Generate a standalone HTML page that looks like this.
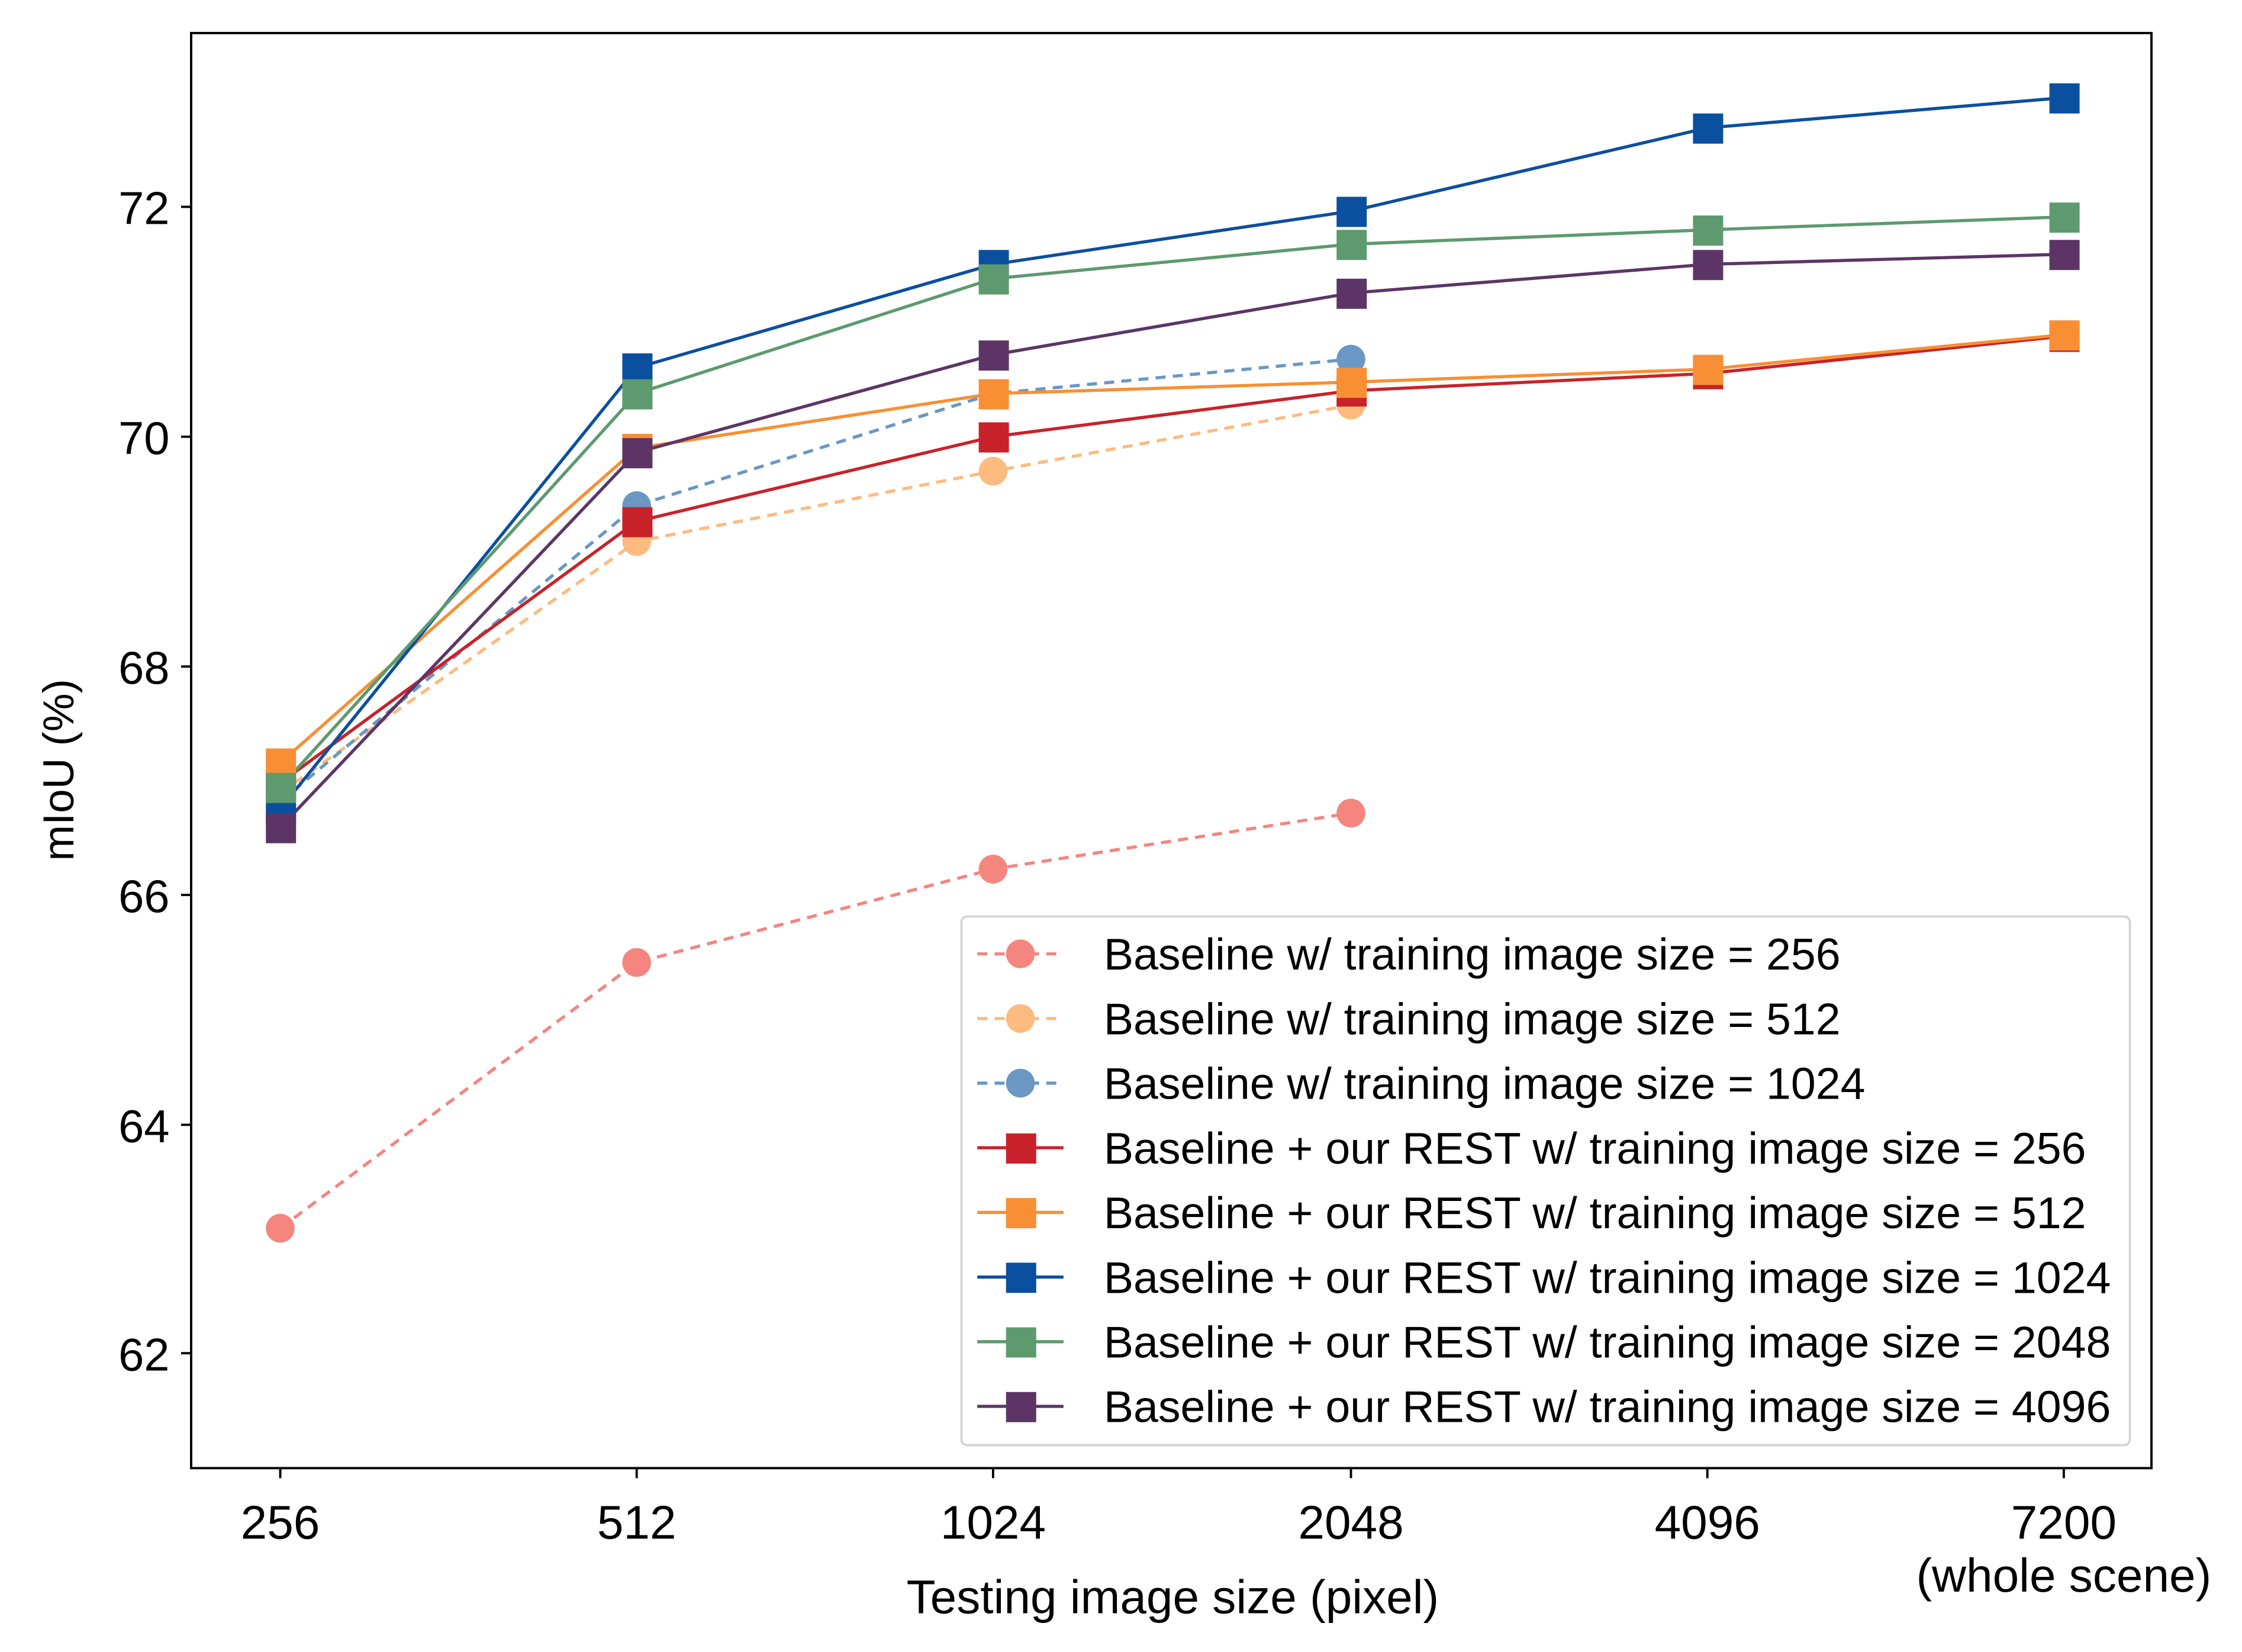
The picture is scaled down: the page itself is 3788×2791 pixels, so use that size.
<!DOCTYPE html>
<html><head><meta charset="utf-8"><style>html,body{margin:0;padding:0;background:#fff}svg{display:block}</style></head>
<body>
<svg width="3788" height="2791" viewBox="0 0 1560 1150" preserveAspectRatio="none" xmlns="http://www.w3.org/2000/svg" font-family="Liberation Sans, Arial, sans-serif">
<rect width="1560" height="1150" fill="#fff"/>
<g stroke="#000" stroke-width="1.6">
<line x1="126" x2="133" y1="942" y2="942"/><line x1="126" x2="133" y1="783" y2="783"/><line x1="126" x2="133" y1="623" y2="623"/><line x1="126" x2="133" y1="464" y2="464"/><line x1="126" x2="133" y1="304" y2="304"/><line x1="126" x2="133" y1="144" y2="144"/>
<line x1="195" x2="195" y1="1022" y2="1029"/><line x1="443" x2="443" y1="1022" y2="1029"/><line x1="691" x2="691" y1="1022" y2="1029"/><line x1="940" x2="940" y1="1022" y2="1029"/><line x1="1188" x2="1188" y1="1022" y2="1029"/><line x1="1436" x2="1436" y1="1022" y2="1029"/>
</g>
<g font-size="32" text-anchor="end" fill="#000">
<text x="118" y="954">62</text><text x="118" y="795">64</text><text x="118" y="635">66</text><text x="118" y="476">68</text><text x="118" y="316">70</text><text x="118" y="156">72</text>
</g>
<g font-size="33" text-anchor="middle" fill="#000">
<text x="195" y="1071">256</text><text x="443" y="1071">512</text><text x="691" y="1071">1024</text><text x="940" y="1071">2048</text><text x="1188" y="1071">4096</text><text x="1436" y="1071">7200</text><text x="1436" y="1108">(whole scene)</text>
<text x="816" y="1123">Testing image size (pixel)</text>
</g>
<text font-size="30" text-anchor="middle" transform="translate(51,536) rotate(-90)">mIoU (%)</text>
<g fill="none" stroke-width="2.2">
<polyline stroke="#f4857f" stroke-dasharray="7,5" points="195,855 443,670 691,605 940,566"/>
<polyline stroke="#fdbb80" stroke-dasharray="7,5" points="195,552 443,377 691,328 940,282"/>
<polyline stroke="#6a97c4" stroke-dasharray="7,5" points="195,558 443,352 691,274 940,250"/>
</g>
<g>
<circle cx="195" cy="855" r="10" fill="#f4857f"/><circle cx="443" cy="670" r="10" fill="#f4857f"/><circle cx="691" cy="605" r="10" fill="#f4857f"/><circle cx="940" cy="566" r="10" fill="#f4857f"/>
<circle cx="195" cy="552" r="10" fill="#fdbb80"/><circle cx="443" cy="377" r="10" fill="#fdbb80"/><circle cx="691" cy="328" r="10" fill="#fdbb80"/><circle cx="940" cy="282" r="10" fill="#fdbb80"/>
<circle cx="195" cy="558" r="10" fill="#6a97c4"/><circle cx="443" cy="352" r="10" fill="#6a97c4"/><circle cx="691" cy="274" r="10" fill="#6a97c4"/><circle cx="940" cy="250" r="10" fill="#6a97c4"/>
</g>
<g fill="none" stroke-width="2.2">
<polyline stroke="#c8222a" points="195,545 443,363 691,304 940,272 1188,260 1436,234"/>
<polyline stroke="#f88f35" points="195,531 443,312 691,274 940,266 1188,257 1436,233"/>
<polyline stroke="#0b4f9f" points="195,563 443,256 691,184 940,147 1188,89 1436,68"/>
<polyline stroke="#5d9a6e" points="195,548 443,274 691,194 940,170 1188,160 1436,151"/>
<polyline stroke="#5c3566" points="195,576 443,315 691,247 940,204 1188,184 1436,177"/>
</g>
<g>
<g fill="#c8222a"><rect x="185" y="535" width="21" height="21"/><rect x="433" y="353" width="21" height="21"/><rect x="681" y="294" width="21" height="21"/><rect x="930" y="262" width="21" height="21"/><rect x="1178" y="250" width="21" height="21"/><rect x="1426" y="224" width="21" height="21"/></g>
<g fill="#f88f35"><rect x="185" y="521" width="21" height="21"/><rect x="433" y="302" width="21" height="21"/><rect x="681" y="264" width="21" height="21"/><rect x="930" y="256" width="21" height="21"/><rect x="1178" y="247" width="21" height="21"/><rect x="1426" y="223" width="21" height="21"/></g>
<g fill="#0b4f9f"><rect x="185" y="553" width="21" height="21"/><rect x="433" y="246" width="21" height="21"/><rect x="681" y="174" width="21" height="21"/><rect x="930" y="137" width="21" height="21"/><rect x="1178" y="79" width="21" height="21"/><rect x="1426" y="58" width="21" height="21"/></g>
<g fill="#5d9a6e"><rect x="185" y="538" width="21" height="21"/><rect x="433" y="264" width="21" height="21"/><rect x="681" y="184" width="21" height="21"/><rect x="930" y="160" width="21" height="21"/><rect x="1178" y="150" width="21" height="21"/><rect x="1426" y="141" width="21" height="21"/></g>
<g fill="#5c3566"><rect x="185" y="566" width="21" height="21"/><rect x="433" y="305" width="21" height="21"/><rect x="681" y="237" width="21" height="21"/><rect x="930" y="194" width="21" height="21"/><rect x="1178" y="174" width="21" height="21"/><rect x="1426" y="167" width="21" height="21"/></g>
</g>
<rect x="669" y="638" width="813" height="368" rx="4" fill="#fff" fill-opacity="0.85" stroke="#d5d5d5" stroke-width="1.6"/>
<g stroke-width="2.2">
<line x1="680" x2="740" y1="664" y2="664" stroke="#f4857f" stroke-dasharray="7,5"/><circle cx="710" cy="664" r="10" fill="#f4857f"/>
<line x1="680" x2="740" y1="709" y2="709" stroke="#fdbb80" stroke-dasharray="7,5"/><circle cx="710" cy="709" r="10" fill="#fdbb80"/>
<line x1="680" x2="740" y1="754" y2="754" stroke="#6a97c4" stroke-dasharray="7,5"/><circle cx="710" cy="754" r="10" fill="#6a97c4"/>
<line x1="680" x2="740" y1="799" y2="799" stroke="#c8222a"/><rect x="700" y="789" width="21" height="21" fill="#c8222a"/>
<line x1="680" x2="740" y1="844" y2="844" stroke="#f88f35"/><rect x="700" y="834" width="21" height="21" fill="#f88f35"/>
<line x1="680" x2="740" y1="889" y2="889" stroke="#0b4f9f"/><rect x="700" y="879" width="21" height="21" fill="#0b4f9f"/>
<line x1="680" x2="740" y1="934" y2="934" stroke="#5d9a6e"/><rect x="700" y="924" width="21" height="21" fill="#5d9a6e"/>
<line x1="680" x2="740" y1="979" y2="979" stroke="#5c3566"/><rect x="700" y="969" width="21" height="21" fill="#5c3566"/>
</g>
<g font-size="31" fill="#000">
<text x="768" y="675">Baseline w/ training image size = 256</text>
<text x="768" y="720">Baseline w/ training image size = 512</text>
<text x="768" y="765">Baseline w/ training image size = 1024</text>
<text x="768" y="810">Baseline + our REST w/ training image size = 256</text>
<text x="768" y="855">Baseline + our REST w/ training image size = 512</text>
<text x="768" y="900">Baseline + our REST w/ training image size = 1024</text>
<text x="768" y="945">Baseline + our REST w/ training image size = 2048</text>
<text x="768" y="990">Baseline + our REST w/ training image size = 4096</text>
</g>
<rect x="133" y="23" width="1364" height="999" fill="none" stroke="#000" stroke-width="1.6"/>
</svg>
</body></html>
